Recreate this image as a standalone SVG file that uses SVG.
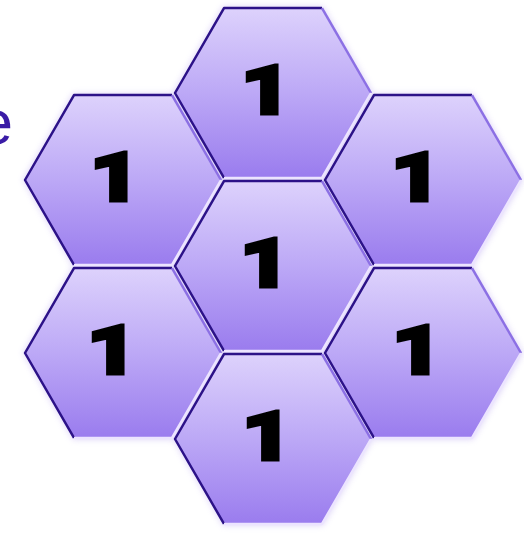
<svg xmlns="http://www.w3.org/2000/svg" width="524" height="533" viewBox="0 0 524 533">
<style>
.side{font-family:"Liberation Sans",Arial,sans-serif;font-size:63px;fill:#3a1ca6}
.num{font-family:Roboto,"Liberation Sans",Arial,sans-serif;font-size:68px;font-weight:900;fill:#000;stroke:#000;stroke-width:3;stroke-linejoin:miter;text-anchor:middle}
.hex{fill:url(#hg)}
.dark{fill:none;stroke:#2c1288;stroke-width:2.5;stroke-linejoin:round}
.mid{fill:none;stroke:#8c70e4;stroke-width:2.5}
.light{fill:none;stroke:#ece4ff;stroke-width:2.5;stroke-linejoin:round}
</style>
<defs>
<linearGradient id="hg" x1="0" y1="0" x2="0" y2="1">
<stop offset="0" stop-color="#ddd2fc"/>
<stop offset="0.5" stop-color="#bca8f6"/>
<stop offset="1" stop-color="#9a7cee"/>
</linearGradient>
<filter id="glow" x="-10%" y="-10%" width="120%" height="120%">
<feGaussianBlur stdDeviation="3"/>
</filter>
<g id="hx">
<polygon class="hex" points="98,0 49,84.9 -49,84.9 -98,0 -49,-84.9 49,-84.9"/>
<polyline class="dark" points="-49,84.9 -98,0 -49,-84.9 49,-84.9"/>
<polyline class="mid" points="49,-84.9 98,0"/>
<polyline class="light" points="98,0 49,84.9 -49,84.9"/>
</g>
<polygon id="hs" points="100,0 50,86.6 -50,86.6 -100,0 -50,-86.6 50,-86.6"/>
</defs>
<rect width="524" height="533" fill="#fff"/>
<text class="side" x="-22" y="144">e</text>
<text class="side" x="-12" y="290">.</text>
<g opacity="0.45" fill="#b8a4f0" filter="url(#glow)">
<use href="#hs" x="273" y="93"/>
<use href="#hs" x="123" y="180"/>
<use href="#hs" x="423" y="180"/>
<use href="#hs" x="273" y="266"/>
<use href="#hs" x="123" y="353"/>
<use href="#hs" x="423" y="353"/>
<use href="#hs" x="273" y="439"/>
</g>
<g id="hex-top"><use href="#hx" x="273" y="93"/><text class="num" transform="translate(266,114) scale(1.3,1)">1</text></g>
<g id="hex-upper-left"><use href="#hx" x="123" y="180"/><text class="num" transform="translate(115,201) scale(1.3,1)">1</text></g>
<g id="hex-upper-right"><use href="#hx" x="423" y="180"/><text class="num" transform="translate(416,201) scale(1.3,1)">1</text></g>
<g id="hex-center"><use href="#hx" x="273" y="266"/><text class="num" transform="translate(265,287) scale(1.3,1)">1</text></g>
<g id="hex-lower-left"><use href="#hx" x="123" y="353"/><text class="num" transform="translate(112,374) scale(1.3,1)">1</text></g>
<g id="hex-lower-right"><use href="#hx" x="423" y="353"/><text class="num" transform="translate(417,374) scale(1.3,1)">1</text></g>
<g id="hex-bottom"><use href="#hx" x="273" y="439"/><text class="num" transform="translate(267,460) scale(1.3,1)">1</text></g>
</svg>
